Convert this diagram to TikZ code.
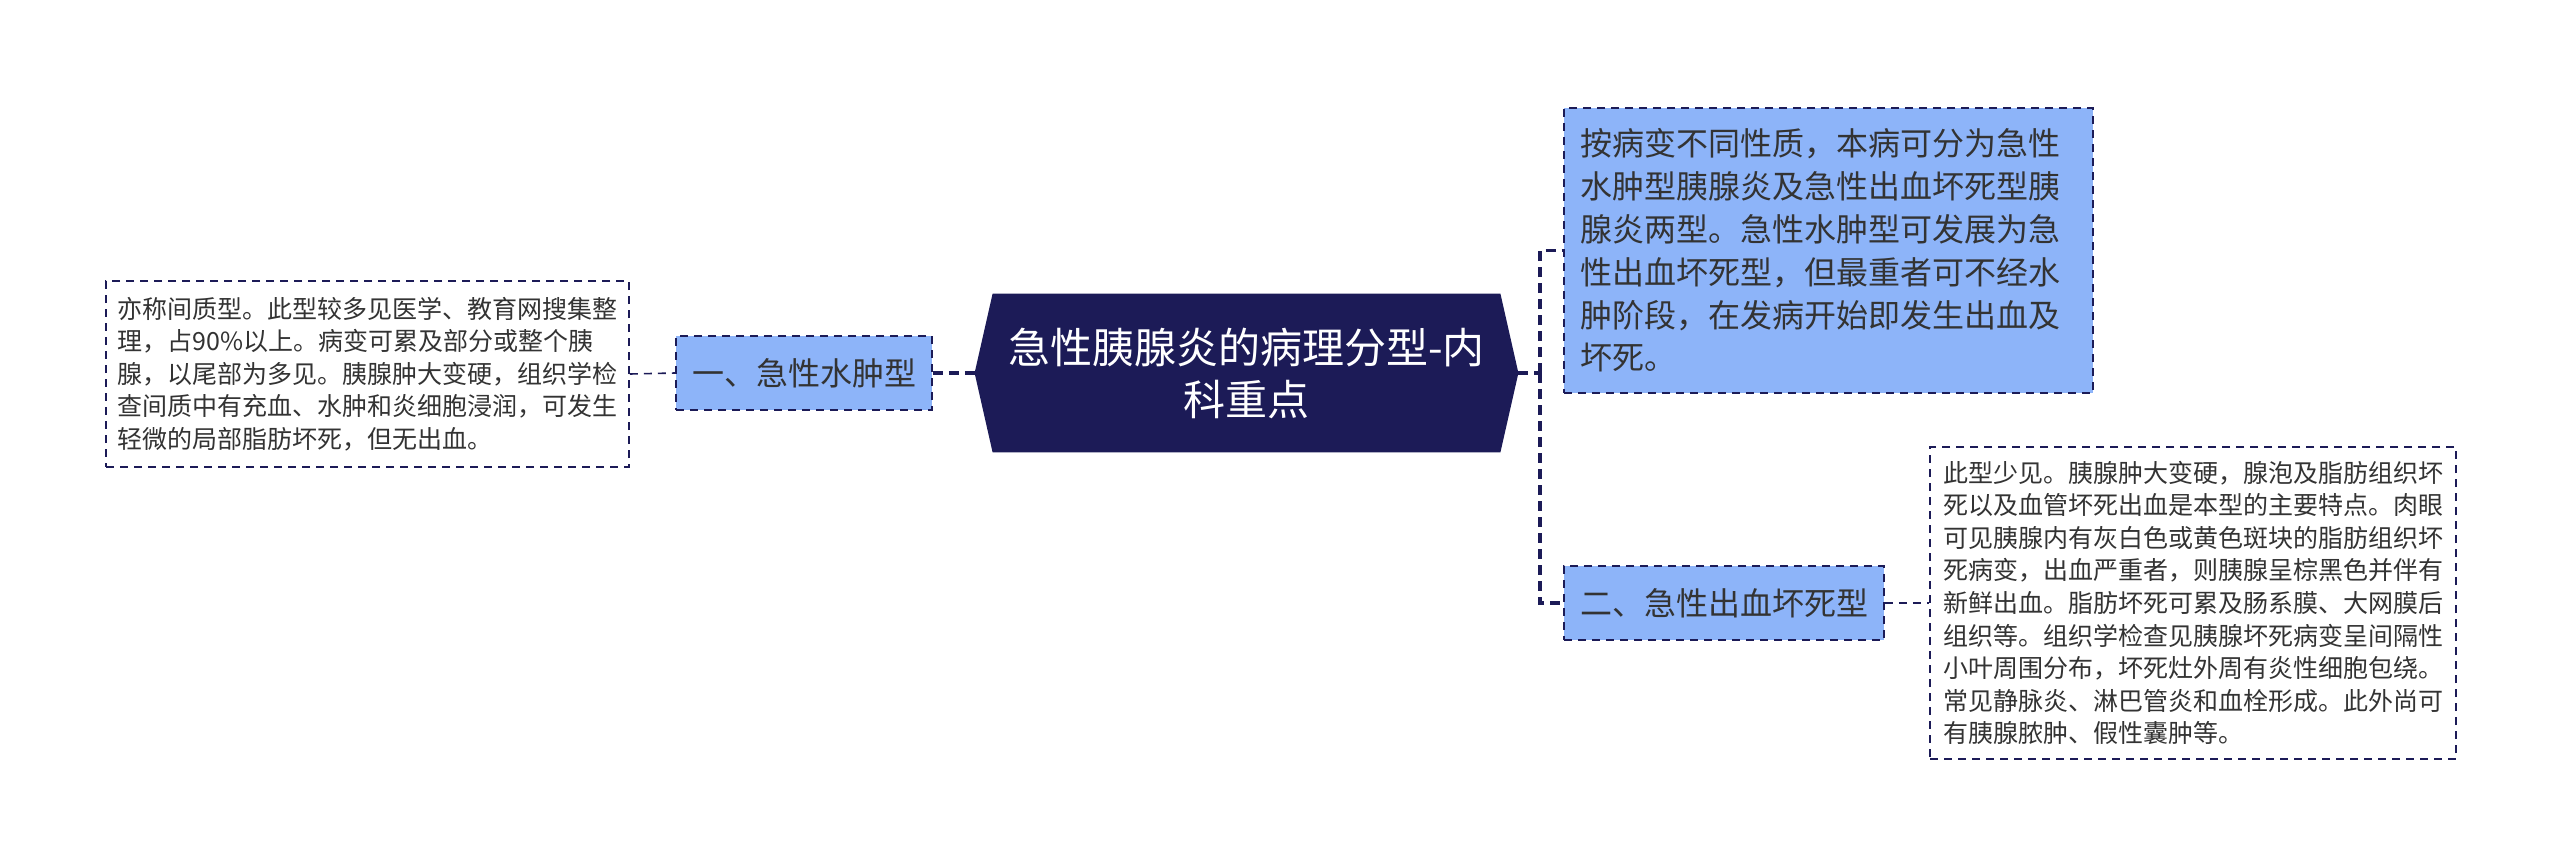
\documentclass[tikz,border=0pt]{standalone}
\usepackage{fontspec}
\setmainfont{Noto Sans CJK SC}
\definecolor{navy}{HTML}{1C1B57}
\definecolor{boxblue}{HTML}{8DB4F9}
\definecolor{txt}{HTML}{333333}
\begin{document}
\begin{tikzpicture}[x=0.5pt,y=-0.5pt,
  leaf/.style={draw=navy,line width=0.8pt,dash pattern=on 4pt off 3pt,fill=white,text=txt,
    font=\fontsize{12.5pt}{16.3pt}\selectfont,align=left,inner xsep=5.5pt,inner ysep=0pt},
  sub/.style={draw=navy,line width=0.8pt,dash pattern=on 4pt off 3pt,fill=boxblue,text=txt,
    font=\fontsize{16pt}{21.4pt}\selectfont,inner sep=0pt},
  trunk/.style={draw=navy,line width=1.6pt,dash pattern=on 5pt off 3pt},
  thinlink/.style={draw=navy,line width=0.8pt,dash pattern=on 4pt off 3pt}]
\useasboundingbox (0,0) rectangle (2560,867);
% central node
\node[minimum width=271.5pt,minimum height=79pt,inner sep=0pt] (C) at (1246.5,373) {};
\fill[navy] (C.west) -- ([xshift=9pt]C.north west) -- ([xshift=-9pt]C.north east) -- (C.east)
  -- ([xshift=-9pt]C.south east) -- ([xshift=9pt]C.south west) -- cycle;
\node[text=white,font=\fontsize{21pt}{26pt}\selectfont,align=center] (Ct) at (C.center) {急性胰腺炎的病理分型-内\\科重点};
% left
\node[sub,minimum width=128pt,minimum height=37pt] (A) at (804,373) {一、急性水肿型};
\node[leaf,minimum width=261.5pt,minimum height=93pt] (L) at (367.5,374) {亦称间质型。此型较多见医学、教育网搜集整\\理，占90\%以上。病变可累及部分或整个胰\\腺，以尾部为多见。胰腺肿大变硬，组织学检\\查间质中有充血、水肿和炎细胞浸润，可发生\\轻微的局部脂肪坏死，但无出血。};
% right
\node[sub,minimum width=264.5pt,minimum height=142.5pt,align=left,text width=248.5pt,inner xsep=8pt] (T) at (1828.5,250.5) {按病变不同性质，本病可分为急性\\水肿型胰腺炎及急性出血坏死型胰\\腺炎两型。急性水肿型可发展为急\\性出血坏死型，但最重者可不经水\\肿阶段，在发病开始即发生出血及\\坏死。};
\node[sub,minimum width=160pt,minimum height=37pt] (B) at (1724,603) {二、急性出血坏死型};
\node[leaf,minimum width=263pt,minimum height=156pt] (R) at (2193,603) {此型少见。胰腺肿大变硬，腺泡及脂肪组织坏\\死以及血管坏死出血是本型的主要特点。肉眼\\可见胰腺内有灰白色或黄色斑块的脂肪组织坏\\死病变，出血严重者，则胰腺呈棕黑色并伴有\\新鲜出血。脂肪坏死可累及肠系膜、大网膜后\\组织等。组织学检查见胰腺坏死病变呈间隔性\\小叶周围分布，坏死灶外周有炎性细胞包绕。\\常见静脉炎、淋巴管炎和血栓形成。此外尚可\\有胰腺脓肿、假性囊肿等。};
% connectors
\coordinate (J) at (1540,373);
\draw[trunk] (A.east) -- (C.west);
\draw[trunk] (C.east) -- (J);
\draw[trunk] (J) |- (T.west);
\draw[trunk] (J) |- (B.west);
\draw[thinlink] (L.east) -- (A.west);
\draw[thinlink] (B.east) -- (R.west);
\end{tikzpicture}
\end{document}
